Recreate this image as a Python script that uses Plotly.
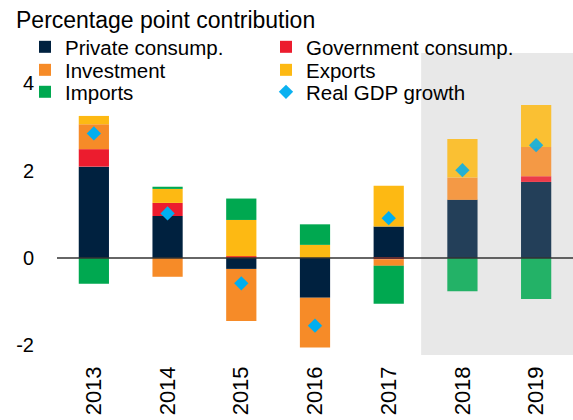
import plotly.graph_objects as go

years = ["2013", "2014", "2015", "2016", "2017", "2018", "2019"]
private_consump = [2.09, 0.96, -0.25, -0.91, 0.72, 1.33, 1.74]
government_consump = [0.40, 0.30, 0.04, 0.00, -0.03, 0.00, 0.13]
investment = [0.57, -0.43, -1.19, -1.14, -0.15, 0.51, 0.67]
exports = [0.19, 0.32, 0.83, 0.30, 0.93, 0.88, 0.96]
imports = [-0.59, 0.05, 0.49, 0.47, -0.87, -0.76, -0.94]
real_gdp_growth = [2.85, 1.02, -0.58, -1.55, 0.91, 2.01, 2.58]
forecast_years = ["2018", "2019"]

font_family = "Liberation Sans, Arial, sans-serif"
opac = [0.85 if y in forecast_years else 1.0 for y in years]

series = [
    ("Private consump.", private_consump, "#00213F", "legend"),
    ("Government consump.", government_consump, "#EC1C2E", "legend2"),
    ("Investment", investment, "#F68B28", "legend3"),
    ("Exports", exports, "#FDB913", "legend4"),
    ("Imports", imports, "#00A850", "legend5"),
]

fig = go.Figure()
for name, vals, col, leg in series:
    fig.add_trace(go.Bar(
        x=years, y=vals, name=name, legend=leg,
        marker=dict(color=col, opacity=opac, line=dict(width=0)),
    ))

fig.add_trace(go.Scatter(
    x=years, y=real_gdp_growth, name="Real GDP growth", mode="markers",
    legend="legend6",
    marker=dict(symbol="diamond", size=11, color="#00AEEF", opacity=opac,
                line=dict(width=0)),
))

fig.add_shape(type="rect", xref="x", yref="paper", x0=4.44, x1=6.6, y0=0, y1=1,
              fillcolor="#E8E8E8", line=dict(width=0), layer="below")
fig.add_shape(type="line", xref="paper", yref="y", x0=0, x1=1, y0=0, y1=0,
              line=dict(color="#333333", width=1.5), layer="above")

row_y = [1.0199, 0.9437, 0.871]
col_x = [-0.062, 0.405]


def legend_item(x, y):
    return dict(
        orientation="h", x=x, xref="paper", y=y, yref="paper",
        xanchor="left", yanchor="middle",
        font=dict(size=20.5, family=font_family, color="#000000"),
        bgcolor="rgba(0,0,0,0)", itemclick=False, itemdoubleclick=False,
        tracegroupgap=0,
    )


fig.update_layout(
    width=573, height=420,
    barmode="relative",
    bargap=0.59,
    plot_bgcolor="white", paper_bgcolor="white",
    font=dict(family=font_family, size=20, color="#000000"),
    margin=dict(l=57, r=0, t=53, b=65, autoexpand=False),
    showlegend=True,
    legend=legend_item(col_x[0], row_y[0]),
    legend2=legend_item(col_x[1], row_y[0]),
    legend3=legend_item(col_x[0], row_y[1]),
    legend4=legend_item(col_x[1], row_y[1]),
    legend5=legend_item(col_x[0], row_y[2]),
    legend6=legend_item(col_x[1], row_y[2]),
    annotations=[dict(
        text="Percentage point contribution", xref="paper", yref="paper",
        x=-0.0833, xanchor="left", y=1.11, yanchor="middle", showarrow=False,
        font=dict(size=23, family=font_family),
    )],
)
fig.update_xaxes(
    range=[-0.5, 6.5], tickangle=-90, showgrid=False, showline=False,
    ticks="", tickfont=dict(size=22), ticklabelstandoff=6, automargin=False,
)
fig.update_yaxes(
    range=[-2.22, 4.69], tickvals=[-2, 0, 2, 4], ticktext=["-2", "0", "2", "4"],
    showgrid=False, zeroline=False, showline=False, ticks="",
    tickfont=dict(size=20), ticklabelstandoff=22, automargin=False,
)

fig.write_html("out.html", config={"displayModeBar": False},
               post_script="document.body.style.margin='0';")
